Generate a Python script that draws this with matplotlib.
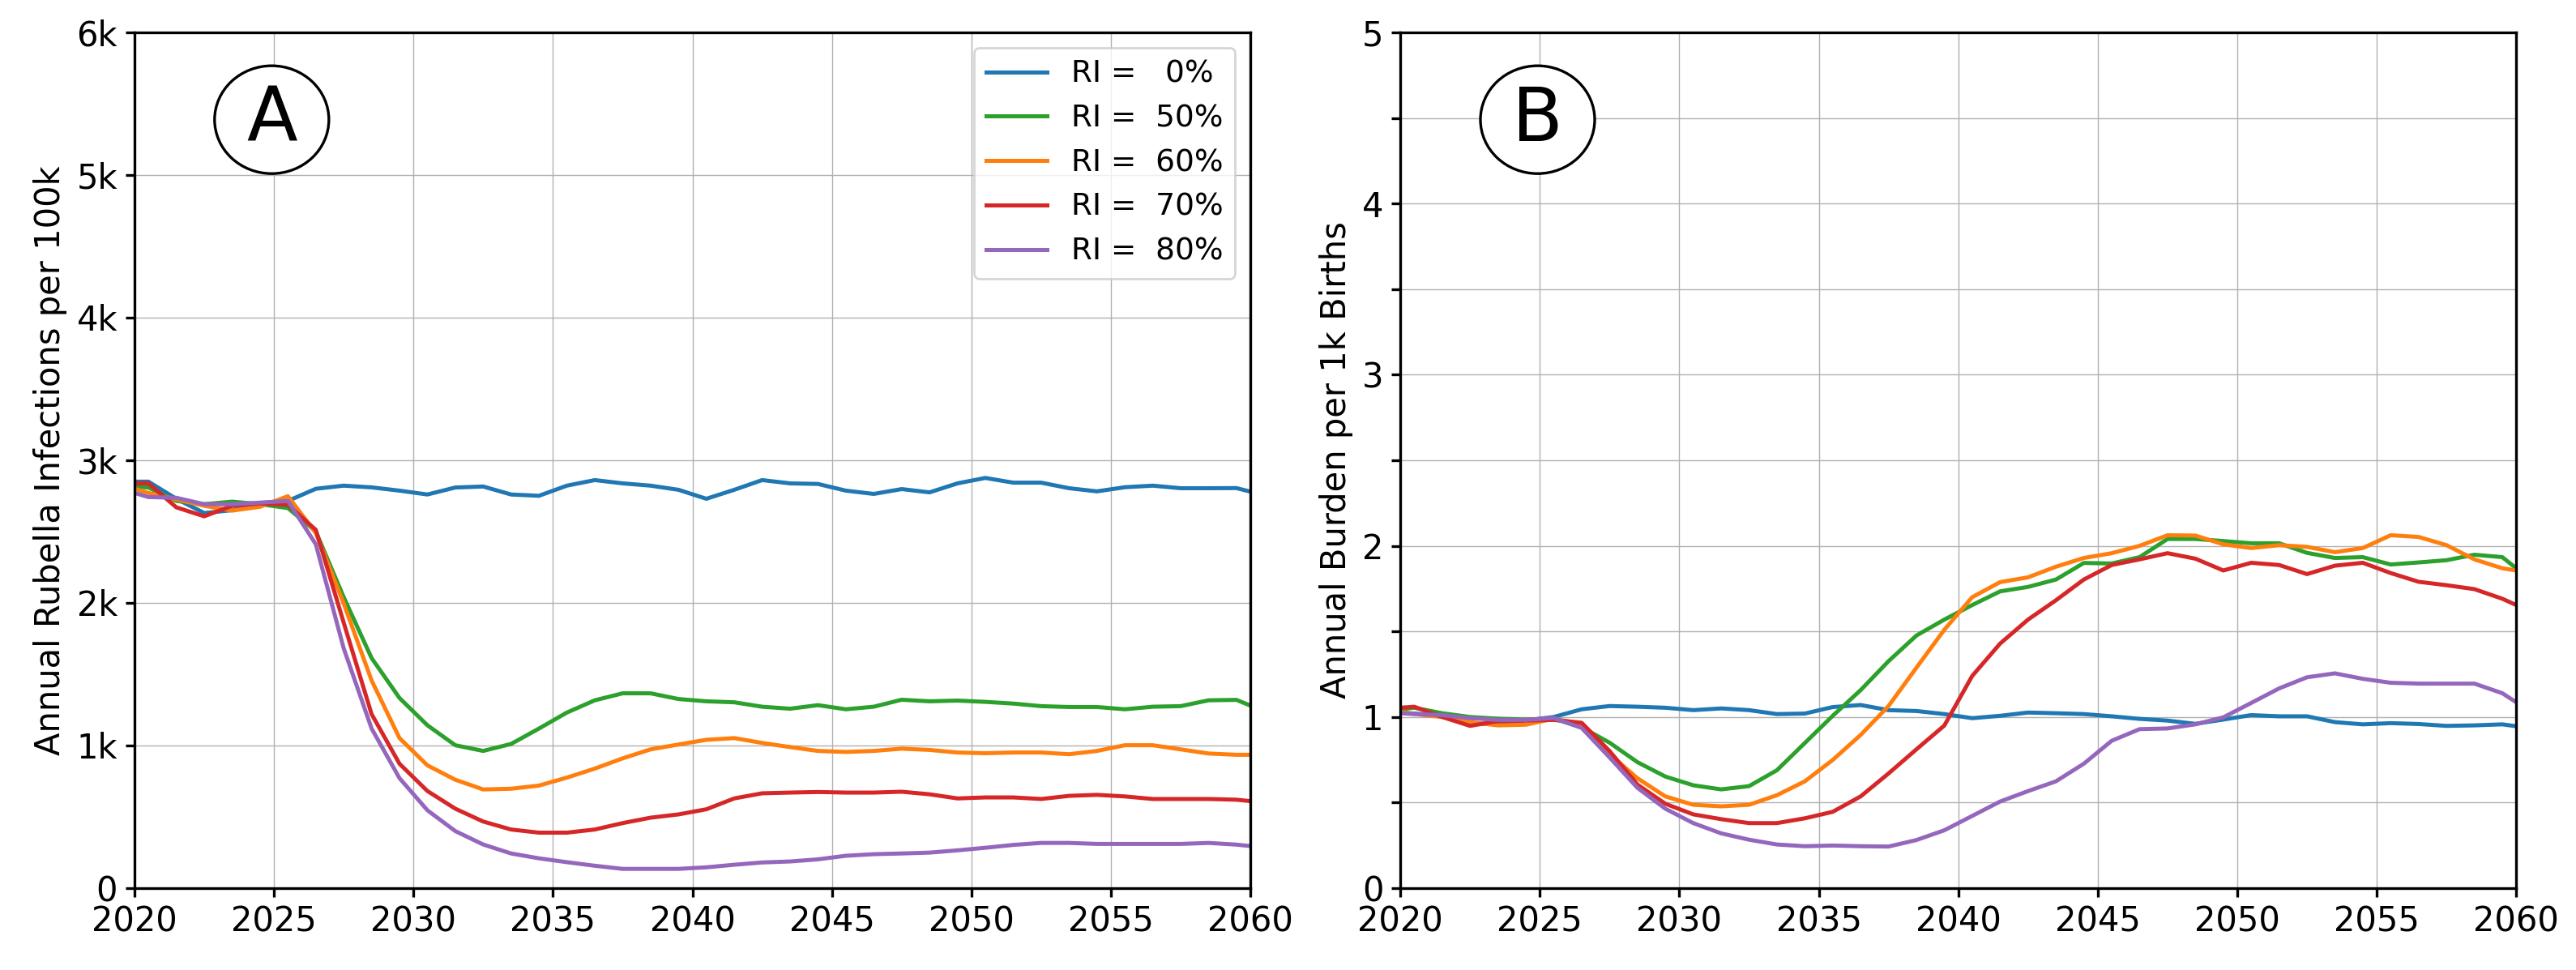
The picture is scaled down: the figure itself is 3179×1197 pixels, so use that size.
import numpy as np
import matplotlib
matplotlib.use("Agg")
import matplotlib.pyplot as plt
from matplotlib.patches import Ellipse
from matplotlib.ticker import MultipleLocator, FuncFormatter

# years: start of range, mid-year points, end of range
years = [2020.0] + list(np.arange(2020.5, 2060.0, 1.0)) + [2060.0]

ri_levels = [0, 50, 60, 70, 80]
colors = ['tab:blue', 'tab:green', 'tab:orange', 'tab:red', 'tab:purple']

# Panel A: annual rubella infections per 100k
inf_ri0 = [2850, 2850, 2730, 2630, 2650, 2700, 2715, 2800, 2822, 2810, 2787, 2760, 2809, 2816,
           2760, 2751, 2822, 2861, 2838, 2822, 2793, 2730, 2793, 2861, 2838, 2834, 2787, 2764,
           2798, 2775, 2838, 2876, 2843, 2843, 2804, 2782, 2811, 2822, 2804, 2804, 2805, 2780]
inf_ri50 = [2816, 2809, 2715, 2692, 2710, 2692, 2665, 2501, 2040, 1613, 1333, 1142, 1002, 962,
            1011, 1119, 1231, 1317, 1366, 1366, 1326, 1310, 1303, 1272, 1258, 1283, 1254, 1272,
            1321, 1310, 1315, 1306, 1294, 1276, 1270, 1270, 1254, 1272, 1276, 1317, 1320, 1280]
inf_ri60 = [2800, 2771, 2726, 2681, 2647, 2674, 2748, 2490, 1996, 1456, 1052, 861, 760, 692,
            697, 719, 775, 838, 910, 973, 1007, 1040, 1052, 1018, 989, 962, 955, 962,
            978, 969, 951, 946, 951, 951, 939, 962, 1002, 1002, 973, 944, 935, 935]
inf_ri70 = [2838, 2838, 2670, 2607, 2681, 2697, 2688, 2512, 1861, 1220, 872, 681, 557, 467,
            411, 389, 389, 411, 456, 494, 517, 553, 629, 665, 670, 674, 670, 670,
            676, 658, 629, 636, 636, 625, 647, 654, 643, 625, 625, 625, 620, 610]
inf_ri80 = [2771, 2742, 2737, 2692, 2692, 2703, 2715, 2411, 1681, 1119, 771, 546, 400, 306,
            243, 209, 182, 157, 135, 135, 135, 146, 164, 180, 187, 202, 227, 238,
            243, 249, 265, 283, 303, 317, 317, 310, 310, 310, 310, 317, 305, 295]

# Panel B: annual burden per 1k births
bur_ri0 = [1.026, 1.02, 1.01, 0.96, 0.96, 0.98, 1.0, 1.045, 1.064, 1.06, 1.054, 1.04, 1.05, 1.04,
           1.017, 1.02, 1.058, 1.07, 1.04, 1.035, 1.017, 0.993, 1.007, 1.026, 1.022, 1.017, 1.004,
           0.989, 0.979, 0.96, 0.985, 1.011, 1.004, 1.004, 0.97, 0.957, 0.964, 0.959, 0.948, 0.951,
           0.957, 0.946]
bur_ri50 = [1.045, 1.054, 1.022, 1.0, 0.99, 0.985, 0.99, 0.94, 0.85, 0.736, 0.652, 0.601, 0.577,
            0.596, 0.689, 0.848, 1.007, 1.157, 1.326, 1.476, 1.569, 1.654, 1.734, 1.76, 1.803, 1.90,
            1.897, 1.934, 2.04, 2.04, 2.028, 2.015, 2.015, 1.959, 1.929, 1.934, 1.891, 1.903, 1.916,
            1.948, 1.934, 1.869]
bur_ri60 = [1.03, 1.017, 1.0, 0.97, 0.951, 0.955, 0.99, 0.96, 0.783, 0.642, 0.536, 0.487, 0.478,
            0.487, 0.543, 0.624, 0.749, 0.895, 1.064, 1.288, 1.51, 1.70, 1.788, 1.816, 1.878, 1.929,
            1.957, 2.0, 2.062, 2.06, 2.009, 1.987, 2.004, 1.994, 1.963, 1.987, 2.062, 2.052, 2.004,
            1.921, 1.869, 1.856]
bur_ri70 = [1.054, 1.06, 1.0, 0.948, 0.976, 0.979, 0.983, 0.966, 0.801, 0.605, 0.493, 0.431, 0.403,
            0.38, 0.38, 0.408, 0.446, 0.536, 0.67, 0.811, 0.95, 1.24, 1.429, 1.569, 1.682, 1.803,
            1.888, 1.921, 1.957, 1.925, 1.856, 1.901, 1.888, 1.835, 1.884, 1.901, 1.841, 1.79, 1.77,
            1.747, 1.691, 1.654]
bur_ri80 = [1.022, 1.017, 1.011, 0.993, 0.983, 0.983, 0.994, 0.936, 0.764, 0.586, 0.464, 0.38, 0.32,
            0.283, 0.255, 0.245, 0.249, 0.245, 0.243, 0.281, 0.338, 0.422, 0.506, 0.567, 0.624, 0.727,
            0.861, 0.929, 0.933, 0.957, 0.998, 1.082, 1.167, 1.232, 1.255, 1.223, 1.2, 1.195, 1.195,
            1.195, 1.139, 1.086]

infections = [inf_ri0, inf_ri50, inf_ri60, inf_ri70, inf_ri80]
burden = [bur_ri0, bur_ri50, bur_ri60, bur_ri70, bur_ri80]

xticks = [2020, 2025, 2030, 2035, 2040, 2045, 2050, 2055, 2060]

plt.rcParams['font.family'] = 'DejaVu Sans'
plt.rcParams['font.size'] = 15

fig = plt.figure(figsize=(15.895, 5.985), dpi=200)
axA = fig.add_axes([0.0522, 0.0844, 0.4332, 0.8822])
axB = fig.add_axes([0.5436, 0.0844, 0.4332, 0.8822])

for ri, col, yv in zip(ri_levels, colors, infections):
    axA.plot(years, yv, color=col, lw=1.8, label='RI = %3d%%' % ri)
for ri, col, yv in zip(ri_levels, colors, burden):
    axB.plot(years, yv, color=col, lw=1.8)

# Panel A axes
axA.set_xlim(2020, 2060)
axA.set_ylim(0, 6000)
axA.set_yticks([0, 1000, 2000, 3000, 4000, 5000, 6000])
axA.yaxis.set_major_formatter(FuncFormatter(lambda v, p: '0' if v == 0 else '%dk' % (v / 1000)))
axA.set_ylabel('Annual Rubella Infections per 100k')
axA.legend(loc='upper right', fontsize=13.5, handlelength=2.0)

# Panel B axes
axB.set_xlim(2020, 2060)
axB.set_ylim(0, 5)
axB.yaxis.set_major_locator(MultipleLocator(0.5))
axB.yaxis.set_major_formatter(FuncFormatter(lambda v, p: '%d' % v if abs(v - round(v)) < 1e-6 else ''))
axB.set_ylabel('Annual Burden per 1k Births')

for ax, letter in [(axA, 'A'), (axB, 'B')]:
    ax.set_xticks(xticks)
    ax.grid(True, color='#b0b0b0', lw=0.5)
    ax.tick_params(width=1.2, length=4)
    for s in ax.spines.values():
        s.set_linewidth(1.2)
    ax.add_patch(Ellipse((0.123, 0.898), 0.1024, 0.126, transform=ax.transAxes,
                         fc='white', ec='black', lw=1.2, zorder=5))
    ax.text(0.123, 0.898, letter, transform=ax.transAxes, fontsize=33,
            ha='center', va='center', zorder=6)

fig.savefig('out.png', dpi=200)
